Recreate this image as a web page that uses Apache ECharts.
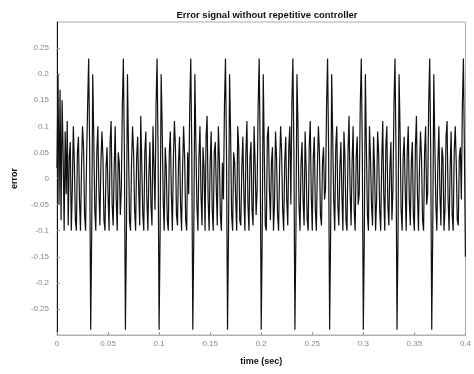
<!DOCTYPE html>
<html>
<head>
<meta charset="utf-8">
<script src="https://cdn.jsdelivr.net/npm/echarts@6/dist/echarts.min.js"></script>
<style>
  html, body { margin: 0; padding: 0; background: #fff; }
  #chart { width: 474px; height: 374px; }
</style>
</head>
<body>
<div id="chart"></div>
<script>
// error signal, one sample every 0.001 s (one row per period of the disturbance)
var sampleTime = 0.001;
var errorValues = [
   0.02, 0.2, -0.05, 0.17, -0.08, 0.15, 0.05, -0.1, 0.09, -0.03, 0.11, -0.09, 0.04, 0.07, -0.1, -0.02, 0.1, 0.03, -0.08, -0.1, 0.05, 0.08, -0.04, -0.1, 0.02, 0.1, 0.06, -0.07, -0.1, 0.04, 0.14, 0.23, 0.05,
  -0.29, -0.1, 0.2, 0.08, -0.06, -0.1, 0.05, 0.1, -0.02, -0.09, 0.03, 0.09, 0.04, -0.08, -0.1, 0.02, 0.06, -0.03, -0.1, 0.07, 0.11, -0.05, -0.09, 0.02, 0.1, -0.04, -0.1, 0.05, 0.03, -0.07, -0.02, 0.14, 0.23, 0.05,
  -0.29, -0.1, 0.2, 0.06, -0.08, -0.1, 0.03, 0.1, 0.05, -0.06, -0.1, 0.04, 0.08, -0.02, -0.09, 0.12, 0.03, -0.07, -0.1, 0.05, 0.09, -0.04, -0.1, 0.01, 0.07, -0.05, -0.09, 0.1, 0.02, -0.06, 0.14, 0.23, 0.05,
  -0.29, -0.1, 0.2, 0.1, -0.04, -0.1, 0.06, 0.02, -0.08, -0.1, 0.05, 0.09, -0.03, -0.1, 0.04, 0.11, 0.06, -0.07, -0.09, 0.03, 0.08, -0.05, -0.1, 0.02, 0.1, 0.04, -0.08, -0.1, 0.05, -0.03, 0.14, 0.23, 0.05,
  -0.29, -0.1, 0.2, 0.07, -0.05, -0.1, 0.04, 0.1, -0.03, -0.09, 0.06, 0.02, -0.1, 0.08, 0.12, -0.04, -0.1, 0.03, 0.09, -0.06, -0.1, 0.05, 0.07, -0.02, -0.09, 0.1, 0.04, -0.07, -0.1, 0.03, -0.04, 0.14, 0.23, 0.05,
  -0.29, -0.1, 0.2, 0.09, -0.07, -0.1, 0.05, 0.03, -0.04, -0.1, 0.1, 0.06, -0.08, -0.09, 0.02, 0.08, -0.03, -0.1, 0.05, 0.11, -0.05, -0.1, 0.04, 0.07, -0.06, -0.09, 0.1, 0.03, -0.07, -0.02, 0.14, 0.23, 0.05,
  -0.29, -0.1, 0.2, 0.05, -0.09, -0.1, 0.08, 0.1, -0.02, -0.08, 0.03, 0.06, -0.1, -0.05, 0.09, 0.04, -0.07, -0.1, 0.02, 0.1, 0.05, -0.06, -0.1, 0.03, 0.08, -0.04, -0.09, 0.06, 0.1, -0.05, 0.14, 0.23, 0.05,
  -0.29, -0.1, 0.2, 0.1, -0.05, -0.1, 0.03, 0.07, -0.04, -0.09, 0.09, 0.02, -0.08, -0.1, 0.06, 0.11, -0.03, -0.1, 0.04, 0.08, -0.06, -0.1, 0.02, 0.1, 0.05, -0.07, -0.09, 0.03, 0.06, -0.04, -0.02, 0.14, 0.23, 0.05,
  -0.29, -0.1, 0.2, 0.08, -0.04, -0.1, 0.06, 0.1, -0.05, -0.09, 0.02, 0.07, -0.03, -0.1, 0.09, 0.04, -0.08, -0.1, 0.05, 0.12, -0.02, -0.09, 0.03, 0.1, -0.06, -0.1, 0.04, 0.08, -0.05, -0.03, 0.14, 0.23, 0.05,
  -0.29, -0.1, 0.2, 0.06, -0.07, -0.1, 0.1, 0.04, -0.05, -0.09, 0.08, 0.02, -0.1, -0.04, 0.09, 0.05, -0.06, -0.1, 0.03, 0.11, -0.03, -0.1, 0.06, 0.1, -0.05, -0.09, 0.02, 0.07, -0.08, -0.02, 0.14, 0.23, 0.05,
  -0.29, -0.1, 0.2, 0.09, -0.06, -0.1, 0.04, 0.08, -0.02, -0.1, 0.05, 0.1, -0.04, -0.09, 0.03, 0.07, -0.07, -0.1, 0.06, 0.12, -0.03, -0.1, 0.02, 0.09, 0.04, -0.08, -0.1, 0.05, 0.1, -0.05, -0.03, 0.14, 0.23, 0.05,
  -0.29, -0.1, 0.2, 0.07, -0.05, -0.1, 0.03, 0.1, -0.03, -0.09, 0.06, 0.04, -0.1, -0.06, 0.08, 0.11, -0.04, -0.1, 0.02, 0.09, -0.07, -0.1, 0.05, 0.1, 0.03, -0.08, -0.09, 0.04, 0.06, -0.04, 0.14, 0.23, 0.05, -0.15
];
var xTicks = [0, 0.05, 0.1, 0.15, 0.2, 0.25, 0.3, 0.35, 0.4];
var yTicks = [-0.25, -0.2, -0.15, -0.1, -0.05, 0, 0.05, 0.1, 0.15, 0.2, 0.25];

var points = errorValues.map(function (v, i) {
  return [+(i * sampleTime).toFixed(3), v];
});

function fmt(v) { return String(parseFloat(v.toFixed(2))); }

var chart = echarts.init(document.getElementById('chart'));
var option = {
  backgroundColor: '#fff',
  animation: false,
  title: {
    text: 'Error signal without repetitive controller',
    left: 262, top: 5, textAlign: 'center',
    textStyle: { fontFamily: 'Liberation Sans', fontSize: 9.5, fontWeight: 'bold', color: '#111' }
  },
  grid: {
    left: 57, right: 5, top: 22, bottom: 39,
    show: true, borderColor: '#aaa', borderWidth: 1
  },
  xAxis: {
    type: 'value', min: 0, max: 0.4, interval: 0.05,
    name: 'time (sec)', nameLocation: 'middle', nameGap: 22,
    nameTextStyle: { fontFamily: 'Liberation Sans', fontSize: 9, fontWeight: 'bold', color: '#111' },
    axisLine: { show: true, onZero: false, lineStyle: { color: '#aaa', type: 'dotted' } },
    axisTick: { show: true, inside: true, length: 3, lineStyle: { color: '#999' } },
    splitLine: { show: false },
    axisLabel: {
      fontFamily: 'Liberation Sans', fontSize: 8, color: '#888', margin: 5,
      formatter: function (v) { return xTicks.indexOf(+v.toFixed(2)) >= 0 ? fmt(v) : ''; }
    }
  },
  yAxis: {
    type: 'value', min: -0.3, max: 0.3, interval: 0.05,
    name: 'error', nameLocation: 'middle', nameGap: 38, nameRotate: 90,
    nameTextStyle: { fontFamily: 'Liberation Sans', fontSize: 9, fontWeight: 'bold', color: '#111' },
    axisLine: { show: true, onZero: false, lineStyle: { color: '#111', width: 1 } },
    axisTick: { show: true, inside: true, length: 3, lineStyle: { color: '#999' } },
    splitLine: { show: false },
    axisLabel: {
      fontFamily: 'Liberation Sans', fontSize: 8, color: '#888', margin: 8,
      showMinLabel: false, showMaxLabel: false,
      formatter: function (v) { return yTicks.indexOf(+v.toFixed(2)) >= 0 ? fmt(v) : ''; }
    }
  },
  series: [{
    type: 'line',
    data: points,
    showSymbol: false,
    clip: true,
    lineStyle: { color: '#111', width: 1.2 }
  }]
};
chart.setOption(option);
</script>
</body>
</html>
